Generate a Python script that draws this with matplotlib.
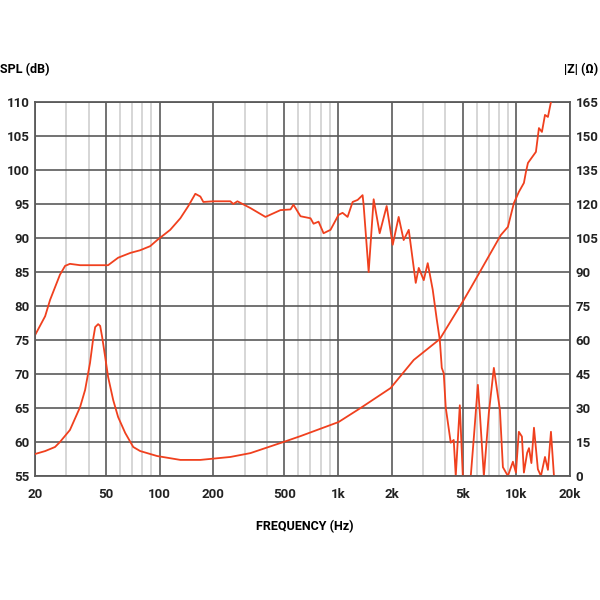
import matplotlib.pyplot as plt
from matplotlib.ticker import FixedLocator, NullFormatter

# SPL response (Hz, dB)
spl_freq = [20, 22.8, 24.3, 27.6, 29.5, 31.4, 35.8, 43.5, 51.4, 58.5, 68.4, 77.8,
            88.5, 96.9, 114.6, 130.6, 144.8, 158.5, 169.1, 175.8, 200, 249.2, 258.8,
            272.9, 322.9, 392, 475.7, 541.6, 562.6, 616.4, 701.6, 729.4, 778.3, 830,
            908, 1007, 1061, 1132, 1208, 1289, 1374, 1392, 1486, 1585, 1713, 1875,
            2027, 2189, 2335, 2494, 2729, 2837, 3027, 3186, 3398, 3581, 3724, 3820,
            3918, 4019, 4288, 4457, 4575, 4821, 5012, 5554, 5780, 6086, 6243, 6576,
            7015, 7483, 8093, 8409, 8971, 9570, 9952, 10330, 10750, 11030, 11500,
            11780, 12150, 12560, 13210, 13740, 14480, 15040, 15640, 16260]
spl_db = [75.7, 78.5, 80.9, 84.6, 85.9, 86.2, 86.0, 86.0, 86.0, 87.1, 87.8, 88.2,
          88.8, 89.7, 91.2, 92.9, 94.7, 96.5, 96.1, 95.3, 95.4, 95.4, 95.0,
          95.4, 94.4, 93.1, 94.1, 94.2, 94.9, 93.2, 92.9, 92.1, 92.4, 90.7,
          91.2, 93.4, 93.7, 93.1, 95.3, 95.6, 96.3, 94.9, 85.0, 95.7, 90.7, 94.7,
          89.0, 93.1, 89.7, 91.2, 83.4, 85.6, 83.8, 86.3, 82.4, 78.0, 75.0, 70.9,
          70.1, 65.1, 59.9, 60.3, 55.0, 65.4, 55.0, 55.0, 60.7, 68.4, 64.3, 55.0,
          64.3, 70.9, 64.7, 56.3, 55.0, 57.1, 55.5, 61.5, 60.8, 55.5, 58.4,
          59.1, 56.9, 62.1, 56.0, 55.0, 57.8, 55.9, 61.5, 55.0]

# impedance curve (Hz, ohm)
imp_freq = [20, 22.8, 25.9, 27.6, 31.4, 35.8, 38.2, 40.7, 42.3, 43.5, 45.2, 46.4,
            47.6, 49.5, 51.4, 54.9, 58.5, 64.1, 71.1, 77.8, 96.9, 130.6, 169.1,
            249.2, 322.9, 494.6, 616.4, 1007, 1339, 1973, 2660, 3724, 5074, 5554,
            8188, 8971, 9690, 10330, 11030, 11320, 11620, 12880, 13390, 13920,
            14480, 15040, 15640]
imp_ohm = [9.7, 11.0, 12.8, 15.0, 20.3, 30.4, 38.0, 49.9, 60.0, 65.7, 67.0, 66.2,
           61.3, 52.5, 43.7, 33.5, 26.0, 19.0, 12.8, 11.0, 8.8, 7.1, 7.1,
           8.4, 10.1, 15.0, 17.6, 23.8, 30.0, 38.8, 51.2, 60.4, 77.7, 83.0,
           106.3, 109.9, 120.4, 125.3, 129.3, 134.1, 138.1, 143.0, 153.5, 151.8,
           159.3, 158.4, 165.0]

major_freqs = [20, 50, 100, 200, 500, 1000, 2000, 5000, 10000, 20000]
major_labels = ["20", "50", "100", "200", "500", "1k", "2k", "5k", "10k", "20k"]
minor_freqs = [30, 40, 60, 70, 80, 90, 300, 400, 600, 700, 800, 900,
               3000, 4000, 6000, 7000, 8000, 9000]
spl_ticks = list(range(55, 111, 5))
imp_ticks = list(range(0, 166, 15))

plt.rcParams['font.family'] = ['Roboto', 'DejaVu Sans']
plt.rcParams['font.weight'] = 'bold'

RED = '#f0401e'
DARK = '#5a5a5a'
LIGHT = '#cfcfcf'


def main():
    fig = plt.figure(figsize=(6, 6), dpi=100)
    ax = fig.add_axes([35 / 600, 1 - 476 / 600, 535 / 600, 374 / 600])

    ax.set_xscale('log')
    ax.set_xlim(20, 20000)
    ax.set_ylim(55, 110)
    ax.xaxis.set_major_locator(FixedLocator(major_freqs))
    ax.xaxis.set_minor_locator(FixedLocator(minor_freqs))
    ax.xaxis.set_minor_formatter(NullFormatter())
    ax.set_xticks(major_freqs, major_labels)
    ax.set_yticks(spl_ticks)

    ax.grid(True, which='major', color=DARK, linewidth=1.2)
    ax.grid(True, which='minor', axis='x', color=LIGHT, linewidth=1.2)
    ax.set_axisbelow(True)
    for s in ax.spines.values():
        s.set_color(DARK)
        s.set_linewidth(1.3)
    ax.tick_params(which='both', length=0, labelsize=9.5, colors='#222222')
    ax.tick_params(axis='x', pad=9)
    ax.tick_params(axis='y', pad=4)

    ax.plot(spl_freq, spl_db, color=RED, linewidth=1.3)

    ax2 = ax.twinx()
    ax2.set_ylim(0, 165)
    ax2.set_yticks(imp_ticks)
    ax2.tick_params(length=0, labelsize=9.5, colors='#222222', pad=4)
    for s in ax2.spines.values():
        s.set_visible(False)
    ax2.plot(imp_freq, imp_ohm, color=RED, linewidth=1.3)

    fig.text(0.0, 1 - 70 / 600, "SPL (dB)", fontsize=9, va='center', ha='left')
    fig.text(0.997, 1 - 70 / 600, "|Z| (Ω)", fontsize=9, va='center', ha='right')
    fig.text(305 / 600, 1 - 527 / 600, "FREQUENCY (Hz)", fontsize=9, va='center', ha='center')

    fig.savefig("out.png", dpi=100, facecolor='white')


if __name__ == "__main__":
    main()
